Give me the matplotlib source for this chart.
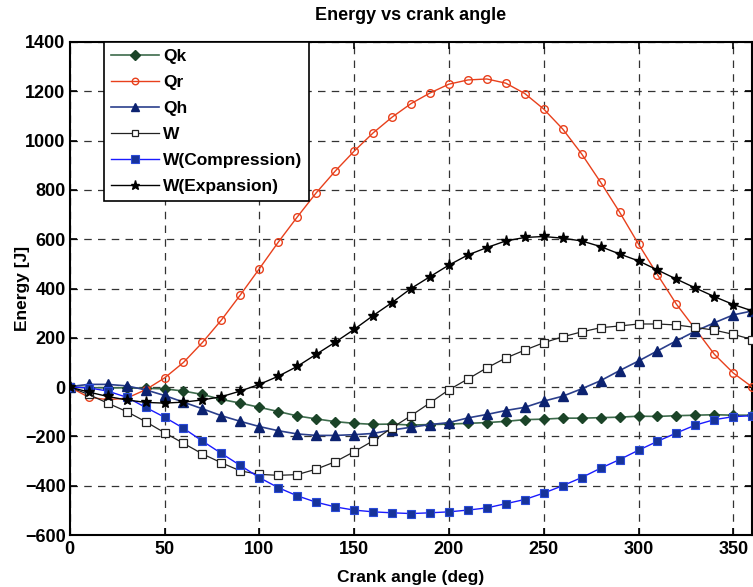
import matplotlib
matplotlib.use("Agg")
import matplotlib.pyplot as plt
import numpy as np

plt.rcParams['font.family'] = ['Liberation Sans', 'DejaVu Sans']
plt.rcParams['font.weight'] = 'bold'

angle = list(range(0, 361, 10))

Qk = [0, -2, -3, -3, -5, -7, -16, -30, -50, -65, -82, -99, -117, -129, -140, -147, -151, -150,
      -154, -152, -150, -147, -144, -139, -132, -130, -126, -126, -124, -122, -118, -119, -116,
      -114, -112, -114, -114]
Qr = [0, -41, -51, -45, -11, 37, 100, 181, 272, 374, 480, 588, 690, 788, 876, 957, 1031, 1095,
      1150, 1193, 1229, 1246, 1250, 1233, 1191, 1128, 1047, 946, 831, 710, 580, 456, 336,
      235, 133, 57, 0]
Qh = [2, 11, 11, 5, -11, -34, -61, -88, -116, -139, -160, -177, -190, -196, -196, -193, -188,
      -174, -163, -152, -144, -125, -111, -95, -82, -57, -37, -7, 26, 67, 106, 147, 188,
      227, 261, 293, 309]
W = [0, -30, -65, -99, -140, -185, -228, -271, -307, -340, -354, -358, -355, -333, -303, -262,
     -218, -165, -116, -64, -11, 33, 78, 118, 150, 180, 204, 224, 241, 248, 256, 256, 252,
     242, 231, 214, 193]
Wc = [0, -3, -16, -41, -82, -122, -167, -219, -269, -318, -367, -408, -441, -467, -486, -499,
      -506, -510, -513, -510, -506, -499, -490, -473, -456, -430, -400, -367, -329, -294,
      -256, -220, -186, -154, -132, -120, -116]
We = [0, -20, -38, -52, -62, -65, -61, -52, -39, -16, 11, 44, 84, 133, 182, 234, 290, 343,
      400, 448, 495, 536, 566, 593, 607, 611, 604, 593, 570, 540, 512, 475, 438, 402, 367,
      335, 309]

fig = plt.figure(figsize=(7.53, 5.87), dpi=100)
ax = fig.add_axes([69.7/753, 1-535/587, (752.3-69.7)/753, (535-42)/587])

ax.plot(angle, Qk, color='#3d6b4c', lw=1.2, marker='D', ms=5.5, mfc='#1b4428', mec='#1b4428',
        label='Qk', zorder=3)
ax.plot(angle, Qr, color='#e8401c', lw=1.0, marker='o', ms=5.5, mfc='none', mec='#e8401c',
        mew=1.0, label='Qr', zorder=3)
ax.plot(angle, Qh, color='#2b3f8c', lw=1.2, marker='^', ms=7, mfc='#0c2270', mec='#0c2270',
        label='Qh', zorder=3)
ax.plot(angle, W, color='#222222', lw=0.9, marker='s', ms=5.5, mfc='white', mec='#222222',
        mew=0.9, label='W', zorder=3)
ax.plot(angle, Wc, color='#1a1aff', lw=1.0, marker='s', ms=6, mfc='#17339a', mec='#2a4ad8',
        mew=0.8, label='W(Compression)', zorder=3)
ax.plot(angle, We, color='black', lw=1.0, marker='*', ms=8, mfc='black', mec='black',
        label='W(Expansion)', zorder=3)

ax.set_xlim(0, 360)
ax.set_ylim(-600, 1400)
ax.set_xticks(range(0, 351, 50))
ax.set_yticks(range(-600, 1401, 200))
ax.tick_params(direction='in', top=True, right=True, labelsize=13, length=5, width=1.2, pad=3)
ax.tick_params(axis='x', pad=4)
for lbl in ax.get_xticklabels() + ax.get_yticklabels():
    lbl.set_fontweight('bold')
ax.grid(True, color='#333333', linestyle=(0, (6, 5)), linewidth=0.9)
for s in ax.spines.values():
    s.set_linewidth(1.5)

ax.set_title('Energy vs crank angle', fontsize=13, fontweight='bold', pad=16)
ax.set_xlabel('Crank angle (deg)', fontsize=12.5, fontweight='bold')
ax.set_ylabel('Energy [J]', fontsize=12.5, fontweight='bold')
ax.xaxis.set_label_coords(0.5, -0.071)
ax.yaxis.set_label_coords(-0.058, 0.5)

leg = ax.legend(loc='upper left', bbox_to_anchor=(0.05, 1.0), fontsize=12.5, frameon=True,
                fancybox=False, edgecolor='black', framealpha=1, borderpad=0.4,
                labelspacing=0.62, handlelength=2.8, handletextpad=0.2, borderaxespad=0,
                markerscale=0.85)
leg.get_frame().set_linewidth(1.2)
for t in leg.get_texts():
    t.set_fontweight('bold')

fig.savefig('out.png', dpi=100)
